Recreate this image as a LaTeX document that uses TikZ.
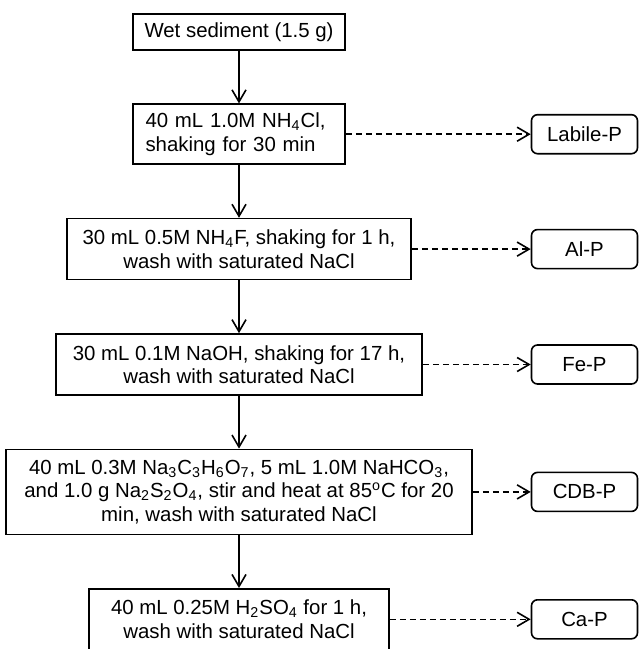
\documentclass[tikz,border=0pt]{standalone}
\usepackage{fontspec}
\setmainfont{Liberation Sans}
\usetikzlibrary{positioning,arrows.meta}

\begin{document}
\begin{tikzpicture}[node distance={26.4pt}, line width=0.8pt, >={Straight Barb[length=6pt,width=7pt]},
    proc/.style = {draw, align=center, inner sep=0pt, font=\fontsize{10.2pt}{11.75pt}\selectfont},
    frac/.style = {draw, rounded corners=3pt, minimum width=53pt, minimum height=19.5pt, inner sep=0pt, font=\fontsize{10.2pt}{11.75pt}\selectfont}]
    \useasboundingbox (0,0) rectangle (320pt,-324.5pt);
    \node[proc, anchor=north, minimum width=106pt, minimum height=18pt] (1) at (119.5pt,-6.5pt) {Wet sediment (1.5 g)};
    \node[proc, below=of 1, text width=93.5pt, align=left, minimum width=106pt, minimum height=30pt] (2) {40 mL 1.0M NH\textsubscript{4}Cl,\\ shaking for 30 min};
    \node[proc, below=of 2, minimum width=172pt, minimum height=30.5pt] (3) {30 mL 0.5M NH\textsubscript{4}F, shaking for 1 h,\\ wash with saturated NaCl};
    \node[proc, below=of 3, minimum width=183pt, minimum height=30.5pt] (4) {30 mL 0.1M NaOH, shaking for 17 h,\\ wash with saturated NaCl};
    \node[proc, below=of 4, minimum width=233pt, minimum height=42.5pt] (5) {40 mL 0.3M Na\textsubscript{3}C\textsubscript{3}H\textsubscript{6}O\textsubscript{7}, 5 mL 1.0M NaHCO\textsubscript{3},\\ and 1.0 g Na\textsubscript{2}S\textsubscript{2}O\textsubscript{4}, stir and heat at 85\textsuperscript{o}C for 20\\ min, wash with saturated NaCl};
    \node[proc, below=of 5, minimum width=150pt, minimum height=30.5pt] (6) {40 mL 0.25M H\textsubscript{2}SO\textsubscript{4} for 1 h,\\ wash with saturated NaCl};
    \coordinate (rc) at (292.25pt,0);
    \node[frac] (lab) at (rc |- 2) {Labile-P};
    \node[frac] (al) at (rc |- 3) {Al-P};
    \node[frac] (fe) at (rc |- 4) {Fe-P};
    \node[frac] (cdb) at (rc |- 5) {CDB-P};
    \node[frac] (ca) at (rc |- 6) {Ca-P};
    \draw[->] (1) -- (2);
    \draw[->] (2) -- (3);
    \draw[->] (3) -- (4);
    \draw[->] (4) -- (5);
    \draw[->] (5) -- (6);
    \draw[->, dash pattern=on 3pt off 2pt] (2) -- (lab);
    \draw[->, dash pattern=on 3pt off 2pt] (3) -- (al);
    \draw[->, dash pattern=on 3pt off 2pt] (4) -- (fe);
    \draw[->, dash pattern=on 3pt off 2pt] (5) -- (cdb);
    \draw[->, dash pattern=on 3pt off 2pt] (6) -- (ca);
\end{tikzpicture}
\end{document}
